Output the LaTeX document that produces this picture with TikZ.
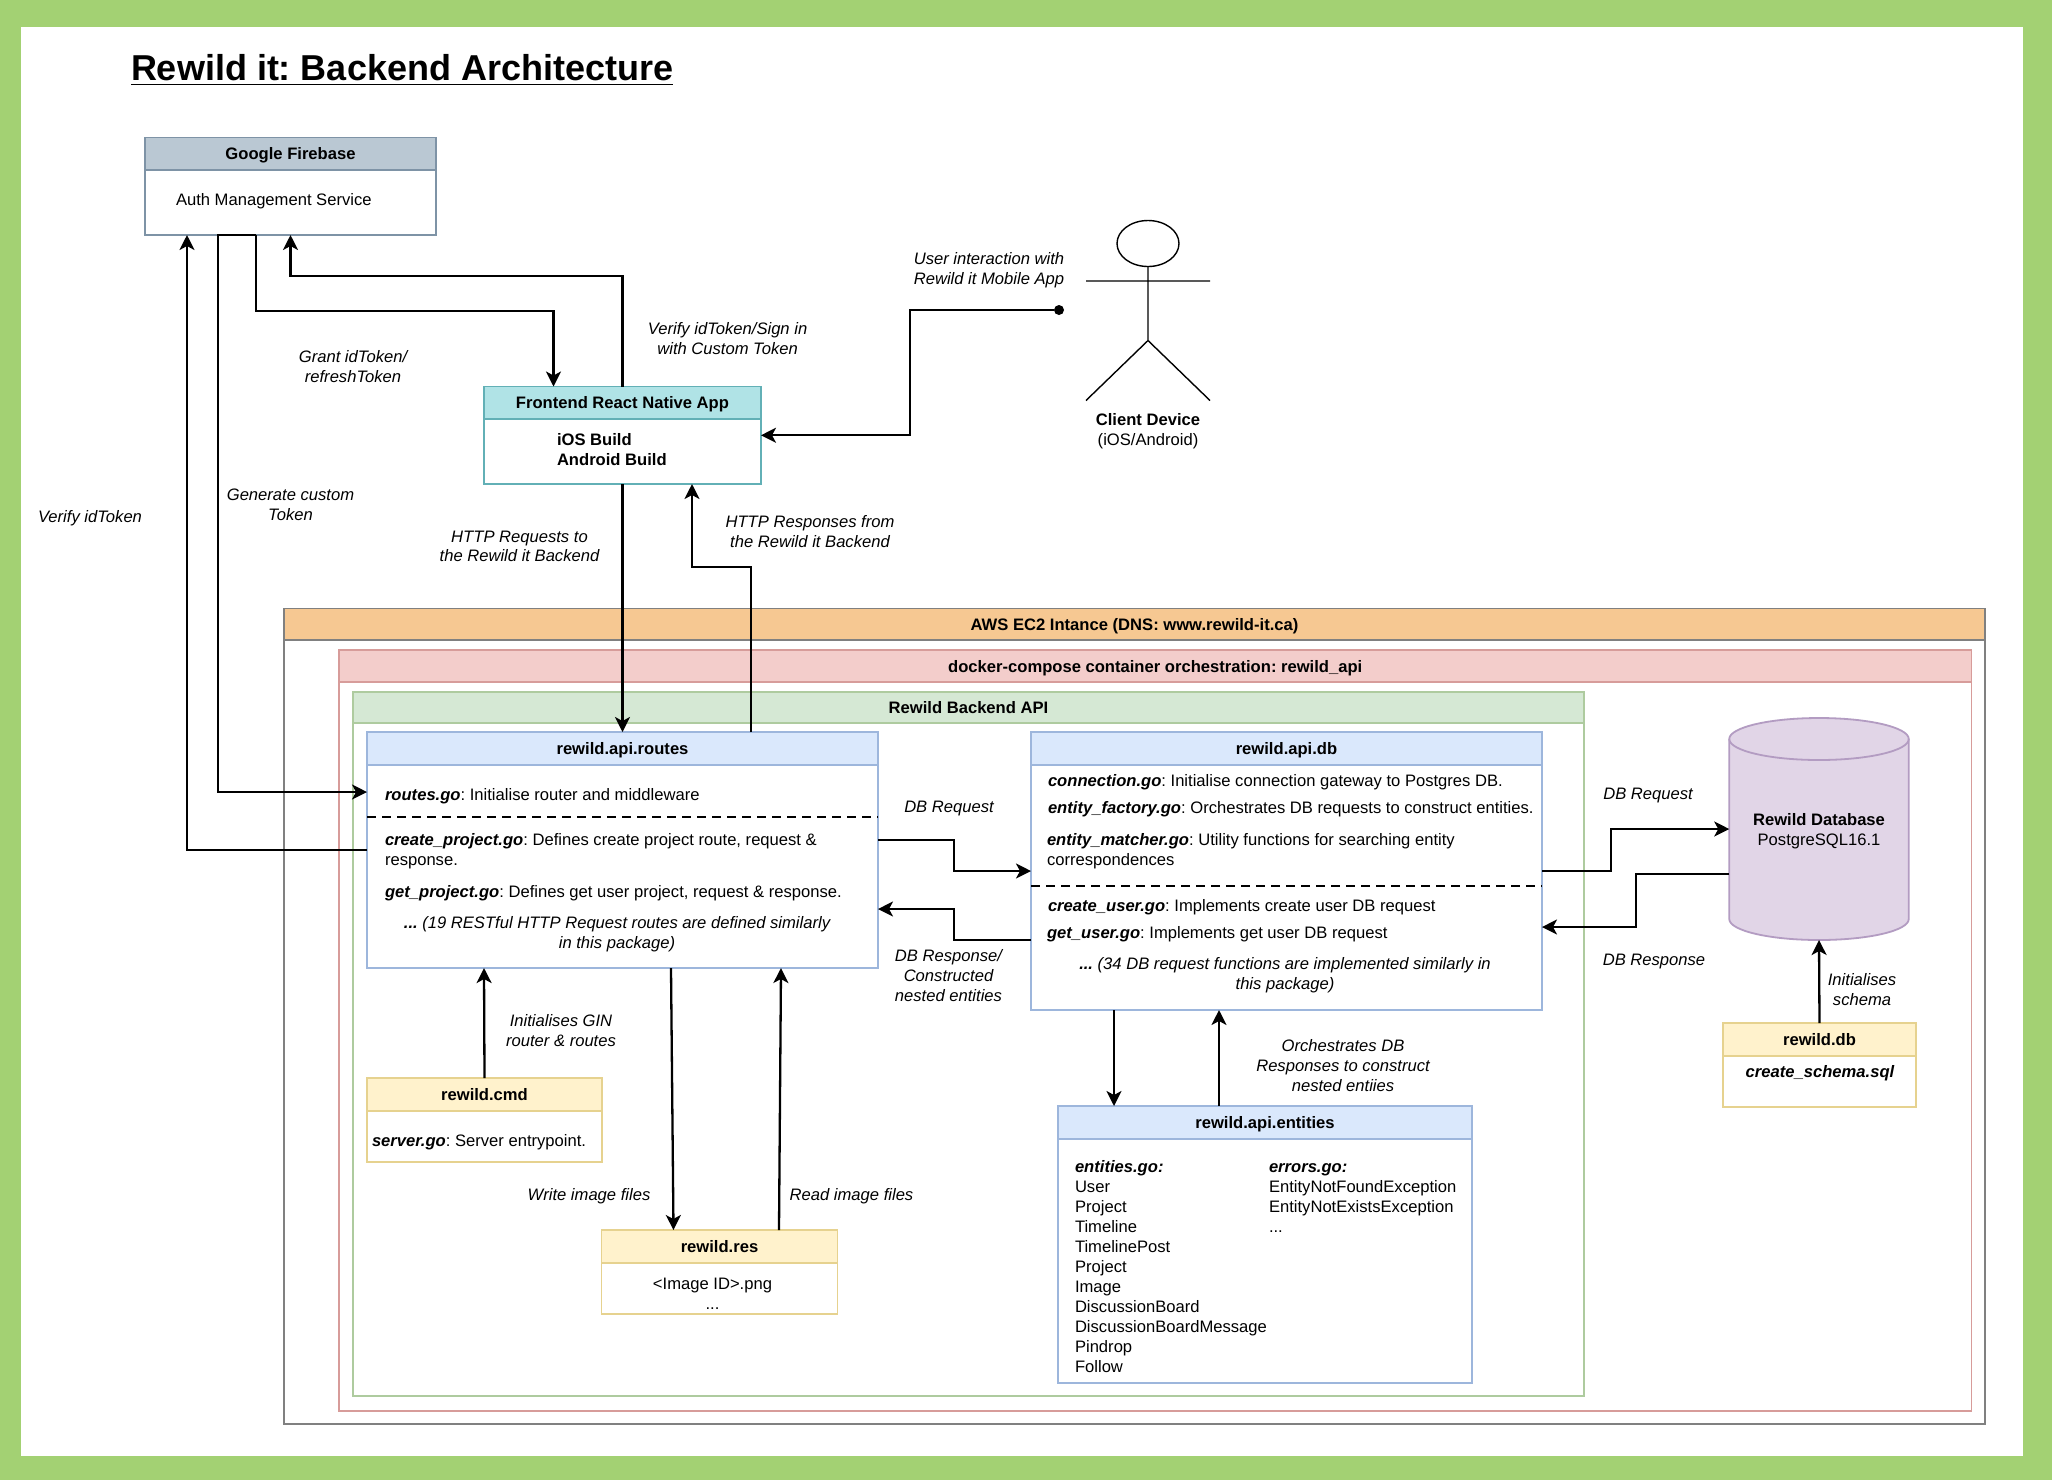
\documentclass[tikz,border=0pt]{standalone}
\usepackage{fontspec}
\setmainfont{Liberation Sans}
\usetikzlibrary{arrows.meta,shapes.geometric}
\frenchspacing

\definecolor{framegreen}{HTML}{A3D173}
\definecolor{slateline}{HTML}{7E93A6}
\definecolor{slatefill}{HTML}{BAC8D3}
\definecolor{tealline}{HTML}{62B0B6}
\definecolor{tealfill}{HTML}{B0E3E6}
\definecolor{blueline}{HTML}{9DB6DC}
\definecolor{bluefill}{HTML}{DAE8FC}
\definecolor{yellowline}{HTML}{E6D28F}
\definecolor{yellowfill}{HTML}{FFF2CC}
\definecolor{greenline}{HTML}{AECB9F}
\definecolor{greenfill}{HTML}{D5E8D4}
\definecolor{redline}{HTML}{D79C9A}
\definecolor{redfill}{HTML}{F3CDCB}
\definecolor{orangefill}{HTML}{F6C892}
\definecolor{purpleline}{HTML}{B39CC2}
\definecolor{purplefill}{HTML}{E1D5E7}

\begin{document}
\begin{tikzpicture}[x=0.5pt,y=-0.5pt,
    every node/.style={inner sep=0pt,outer sep=0pt,font=\fontsize{8.3}{9.9}\selectfont},
    box/.style={rectangle,draw,line width=0.9pt,fill=white},
    bar/.style={rectangle,draw,line width=0.9pt,anchor=north,text height=6pt,text depth=0pt,font=\fontsize{8.3}{9.9}\selectfont\bfseries},
    note/.style={yshift=-0.2pt,align=center,font=\fontsize{8.3}{9.9}\selectfont\itshape},
    body/.style={yshift=-0.5pt,anchor=west,align=left},
    flow/.style={draw,line width=1.15pt,-{Stealth[length=7.5pt,width=7.5pt,inset=2pt]}},
    split/.style={draw,line width=1.15pt,dash pattern=on 4.5pt off 3pt},
    file/.style={font=\fontsize{8.3}{9.9}\selectfont\bfseries\itshape}]

  % page
  \fill[framegreen] (0,0) rectangle (2052,1480);
  \fill[white] (21,27) rectangle (2023,1456);
  \node[anchor=west,font=\fontsize{18}{20}\selectfont\bfseries] (title) at (131,70)
    {\underline{Rewild it: Backend Architecture}};

  % nested frames
  \node[box,draw=gray,minimum width=850.5pt,minimum height=407.75pt] (aws) at (1134.5,1016.25) {};
  \node[bar,draw=gray,fill=orangefill,minimum width=850.5pt,minimum height=15.75pt] (awsbar) at (aws.north) {AWS EC2 Intance (DNS: www.rewild-it.ca)};
  \node[box,draw=redline,minimum width=816.25pt,minimum height=380.5pt] (docker) at (1155.25,1030.5) {};
  \node[bar,draw=redline,fill=redfill,minimum width=816.25pt,minimum height=16pt] (dockerbar) at (docker.north) {docker-compose container orchestration: rewild\_api};
  \node[box,draw=greenline,minimum width=615.5pt,minimum height=352pt] (api) at (968.5,1044) {};
  \node[bar,draw=greenline,fill=greenfill,minimum width=615.5pt,minimum height=15.5pt] (apibar) at (api.north) {Rewild Backend API};

  % firebase and app
  \node[box,draw=slateline,minimum width=145.5pt,minimum height=48.75pt] (firebase) at (290.5,186.25) {};
  \node[bar,draw=slateline,fill=slatefill,minimum width=145.5pt,minimum height=16.25pt] (firebasebar) at (firebase.north) {Google Firebase};
  \node[body] (auth) at (176,200) {Auth Management Service};

  \node[box,draw=tealline,minimum width=138.5pt,minimum height=48.75pt] (frontend) at (622.5,435.25) {};
  \node[bar,draw=tealline,fill=tealfill,minimum width=138.5pt,minimum height=16.25pt] (frontendbar) at (frontend.north) {Frontend React Native App};
  \node[body,font=\fontsize{8.3}{9.9}\selectfont\bfseries] (builds) at (557,448.5) {iOS Build\\Android Build};

  % packages
  \node[box,draw=blueline,minimum width=255.5pt,minimum height=118pt] (routes) at (622.5,850) {};
  \node[bar,draw=blueline,fill=bluefill,minimum width=255.5pt,minimum height=16.5pt] (routesbar) at (routes.north) {rewild.api.routes};
  \node[body] (routesgo) at (385,795) {\textbf{\textit{routes.go}}: Initialise router and middleware};
  \node[body] (createproject) at (385,850) {\textbf{\textit{create\_project.go}}: Defines create project route, request \&\\response.};
  \node[body] (getproject) at (385,892) {\textbf{\textit{get\_project.go}}: Defines get user project, request \& response.};
  \node[note] (routesmore) at (617,933.5) {\textbf{...} (19 RESTful HTTP Request routes are defined similarly\\in this package)};

  \node[box,draw=blueline,minimum width=255.5pt,minimum height=139pt] (db) at (1286.5,871) {};
  \node[bar,draw=blueline,fill=bluefill,minimum width=255.5pt,minimum height=16.5pt] (dbbar) at (db.north) {rewild.api.db};
  \node[body] (connection) at (1048,781) {\textbf{\textit{connection.go}}: Initialise connection gateway to Postgres DB.};
  \node[body] (factory) at (1048,808.5) {\textbf{\textit{entity\_factory.go}}: Orchestrates DB requests to construct entities.};
  \node[body] (matcher) at (1047,850.5) {\textbf{\textit{entity\_matcher.go}}: Utility functions for searching entity\\correspondences};
  \node[body] (createuser) at (1048,906) {\textbf{\textit{create\_user.go}}: Implements create user DB request};
  \node[body] (getuser) at (1047,933) {\textbf{\textit{get\_user.go}}: Implements get user DB request};
  \node[note] (dbmore) at (1285,975) {\textbf{...} (34 DB request functions are implemented similarly in\\this package)};

  \node[box,draw=blueline,minimum width=207pt,minimum height=138.5pt] (entities) at (1265,1244.5) {};
  \node[bar,draw=blueline,fill=bluefill,minimum width=207pt,minimum height=16.5pt] (entitiesbar) at (entities.north) {rewild.api.entities};
  \node[anchor=north west,align=left,font=\fontsize{8.3}{10}\selectfont] (entitylist) at (1075,1160)
    {\textbf{\textit{entities.go:}}\\User\\Project\\Timeline\\TimelinePost\\Project\\Image\\DiscussionBoard\\DiscussionBoardMessage\\Pindrop\\Follow};
  \node[anchor=north west,align=left,font=\fontsize{8.3}{10}\selectfont] (errorlist) at (1269,1163.5)
    {\textbf{\textit{errors.go:}}\\EntityNotFoundException\\EntityNotExistsException\\...};

  \node[box,draw=yellowline,minimum width=117.5pt,minimum height=42pt] (cmd) at (484.5,1120) {};
  \node[bar,draw=yellowline,fill=yellowfill,minimum width=117.5pt,minimum height=16.5pt] (cmdbar) at (cmd.north) {rewild.cmd};
  \node[body] (servergo) at (372,1141) {\textbf{\textit{server.go}}: Server entrypoint.};

  \node[box,draw=yellowline,minimum width=118pt,minimum height=42pt] (res) at (719.5,1272) {};
  \node[bar,draw=yellowline,fill=yellowfill,minimum width=118pt,minimum height=16.5pt] (resbar) at (res.north) {rewild.res};
  \node[align=center] (images) at (712.5,1294) {<Image ID>.png\\...};

  \node[box,draw=yellowline,minimum width=96.5pt,minimum height=42pt] (schema) at (1819.5,1065) {};
  \node[bar,draw=yellowline,fill=yellowfill,minimum width=96.5pt,minimum height=16.5pt] (schemabar) at (schema.north) {rewild.db};
  \node[file] (schemasql) at (1820,1073) {create\_schema.sql};

  % database barrel
  \node[rectangle,minimum width=89.75pt,minimum height=111pt] (postgres) at (1819,829) {};
  \draw[draw=purpleline,line width=0.9pt,fill=purplefill]
    ([yshift=-10.5pt]postgres.north west) -- ([yshift=10.5pt]postgres.south west)
    arc[start angle=180,end angle=360,x radius=44.875pt,y radius=10.5pt]
    -- ([yshift=-10.5pt]postgres.north east)
    arc[start angle=0,end angle=180,x radius=44.875pt,y radius=10.5pt] -- cycle;
  \draw[draw=purpleline,line width=0.9pt] ([yshift=-10.5pt]postgres.north west)
    arc[start angle=180,end angle=360,x radius=44.875pt,y radius=10.5pt];
  \node[align=center] (postgrestext) at (1819,831.5) {\textbf{Rewild Database}\\PostgreSQL16.1};

  % client device
  \node[ellipse,draw,line width=0.7pt,minimum width=31pt,minimum height=23pt] (head) at (1148,243.5) {};
  \coordinate (hips) at (1148,340.5);
  \coordinate (armleft) at (1086,281);
  \coordinate (armright) at (1210,281);
  \coordinate (footleft) at (1086,400.5);
  \coordinate (footright) at (1210,400.5);
  \draw[line width=0.7pt] (head) -- (hips) (armleft) -- (armright) (footleft) -- (hips) -- (footright);
  \node[align=center] (client) at (1148,431) {\textbf{Client Device}\\(iOS/Android)};
  \node[circle,fill=black,minimum size=5pt] (touch) at (1059,310) {};

  % split lines
  \draw[split] ([yshift=16.5pt]routes.west) -- ([yshift=16.5pt]routes.east);
  \draw[split] ([yshift=-7.5pt]db.west) -- ([yshift=-7.5pt]db.east);

  % connectors
  \draw[flow] (routes.west) -| ([xshift=-51.75pt]firebase.south);
  \draw[flow] ([xshift=-17.25pt]firebase.south) -- ([xshift=-36.25pt]firebase.south) |- ([yshift=29pt]routes.west);
  \draw[flow] ([xshift=-17.25pt]firebase.south) -- ++(0,76) -| ([xshift=-34.5pt]frontend.north);
  \draw[flow] (frontend.north) -- ++(0,-110.5) -| (firebase.south);
  \draw[flow] (touch) -- ++(-149,0) |- (frontend.east);
  \draw[flow] (frontend.south) -- (routes.north);
  \draw[flow] ([xshift=64.25pt]routes.north) -- ++(0,-165) -| ([xshift=34.75pt]frontend.south);
  \draw[flow] ([yshift=5pt]routes.east) -- ++(76,0) |- (db.west);
  \draw[flow] ([yshift=-34.5pt]db.west) -- ++(-77,0) |- ([yshift=-29.5pt]routes.east);
  \draw[flow] (db.east) -- ++(69,0) |- (postgres.west);
  \draw[flow] ([yshift=-22.5pt]postgres.west) -- ++(-93,0) |- ([yshift=-28pt]db.east);
  \draw[flow] ([xshift=-86.25pt]db.south) -- ([xshift=-75.5pt]entities.north);
  \draw[flow] ([xshift=-23pt]entities.north) -- ([xshift=-33.75pt]db.south);
  \draw[flow] (cmd.north) -- ([xshift=-69.25pt]routes.south);
  \draw[flow] ([xshift=24.25pt]routes.south) -- ([xshift=-23pt]res.north);
  \draw[flow] ([xshift=29.75pt]res.north) -- ([xshift=79.25pt]routes.south);
  \draw[flow] (schema.north) -- (postgres.south);

  % connector labels
  \node[note] (verifylabel) at (90,518) {Verify idToken};
  \node[note] (customlabel) at (290.5,504.5) {Generate custom\\Token};
  \node[note] (grantlabel) at (353,366) {Grant idToken/\\refreshToken};
  \node[note] (signlabel) at (727.6,338) {Verify idToken/Sign in\\with Custom Token};
  \node[note] (touchlabel) at (989,270) {User interaction with\\Rewild it Mobile App};
  \node[note] (requestlabel) at (519.5,546) {HTTP Requests to\\the Rewild it Backend};
  \node[note] (responselabel) at (810,531) {HTTP Responses from\\the Rewild it Backend};
  \node[note] (dbreqlabel) at (949,808.5) {DB Request};
  \node[note] (dbresplabel) at (948.5,975) {DB Response/\\Constructed\\nested entities};
  \node[note] (ginlabel) at (561,1030) {Initialises GIN\\router \& routes};
  \node[note] (writelabel) at (589,1196) {Write image files};
  \node[note] (readlabel) at (851.5,1196) {Read image files};
  \node[note] (pgreqlabel) at (1648,795) {DB Request};
  \node[note] (pgresplabel) at (1654,961) {DB Response};
  \node[note] (schemalabel) at (1862,989) {Initialises\\schema};
  \node[note] (nestedlabel) at (1343,1065) {Orchestrates DB\\Responses to construct\\nested entiies};
\end{tikzpicture}
\end{document}
